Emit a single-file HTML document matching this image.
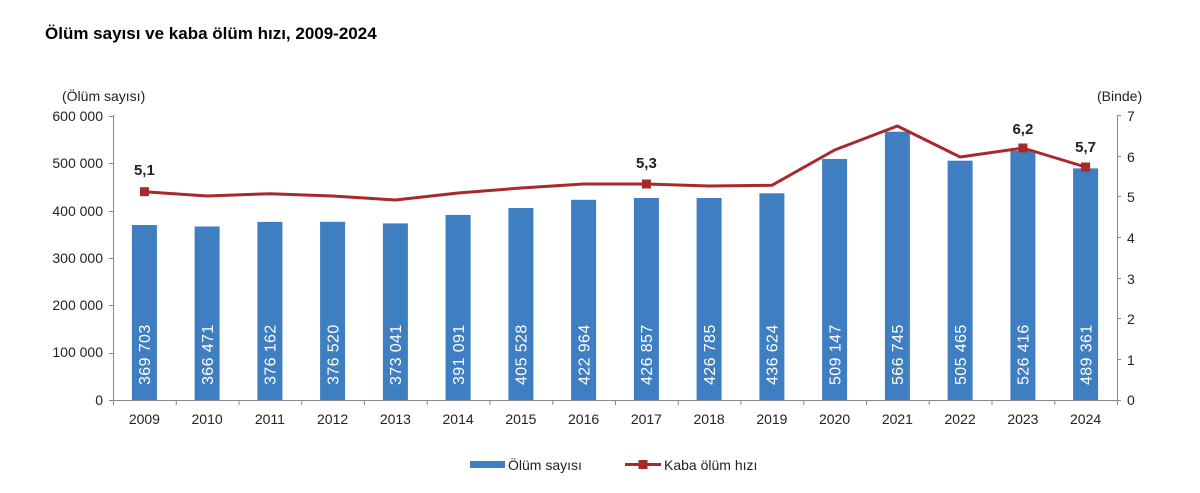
<!DOCTYPE html>
<html><head><meta charset="utf-8"><style>
body{margin:0;background:#fff;}
svg{display:block;font-family:"Liberation Sans",Arial,sans-serif;}
</style></head><body>
<svg width="1200" height="493" viewBox="0 0 1200 493" xmlns="http://www.w3.org/2000/svg">
<text x="45" y="39" font-size="17" font-weight="bold" fill="#000">Ölüm sayısı ve kaba ölüm hızı, 2009-2024</text>
<text x="62" y="101" font-size="14" fill="#222">(Ölüm sayısı)</text>
<text x="1097" y="101" font-size="14" fill="#222">(Binde)</text>
<g font-size="14" fill="#222" text-anchor="end">
<text x="103" y="121">600 000</text><text x="103" y="168">500 000</text><text x="103" y="216">400 000</text>
<text x="103" y="263">300 000</text><text x="103" y="310">200 000</text><text x="103" y="357">100 000</text><text x="103" y="405">0</text>
</g>
<g font-size="14" fill="#222">
<text x="1127" y="121">7</text><text x="1127" y="162">6</text><text x="1127" y="202">5</text><text x="1127" y="243">4</text>
<text x="1127" y="284">3</text><text x="1127" y="324">2</text><text x="1127" y="365">1</text><text x="1127" y="405">0</text>
</g>
<g stroke="#888" stroke-width="1">
<line x1="113.5" y1="115" x2="113.5" y2="400"/>
<line x1="1117.5" y1="115" x2="1117.5" y2="400"/>
<line x1="113" y1="400.5" x2="1118" y2="400.5"/>
<path d="M109 116.5h4M109 163.5h4M109 211.5h4M109 258.5h4M109 305.5h4M109 353.5h4M109 400.5h4"/>
<path d="M1117 115.5h4M1117 156.5h4M1117 196.5h4M1117 237.5h4M1117 278.5h4M1117 318.5h4M1117 359.5h4M1117 400.5h4"/>
<path d="M113.5 400v5M176.25 400v5M239 400v5M301.75 400v5M364.5 400v5M427.25 400v5M490 400v5M552.75 400v5M615.5 400v5M678.25 400v5M741 400v5M803.75 400v5M866.5 400v5M929.25 400v5M992 400v5M1054.75 400v5M1117.5 400v5"/>
</g>
<g fill="#3e7ec1">
<rect x="131.9" y="225" width="25" height="175"/>
<rect x="194.6" y="226.5" width="25" height="173.5"/>
<rect x="257.4" y="221.9" width="25" height="178.1"/>
<rect x="320.1" y="221.8" width="25" height="178.2"/>
<rect x="382.9" y="223.4" width="25" height="176.6"/>
<rect x="445.6" y="214.9" width="25" height="185.1"/>
<rect x="508.4" y="208" width="25" height="192"/>
<rect x="571.1" y="199.8" width="25" height="200.2"/>
<rect x="633.9" y="198" width="25" height="202"/>
<rect x="696.6" y="198" width="25" height="202"/>
<rect x="759.4" y="193.3" width="25" height="206.7"/>
<rect x="822.1" y="159" width="25" height="241"/>
<rect x="884.9" y="131.7" width="25" height="268.3"/>
<rect x="947.6" y="160.7" width="25" height="239.3"/>
<rect x="1010.4" y="150.8" width="25" height="249.2"/>
<rect x="1073.1" y="168.4" width="25" height="231.6"/>
</g>
<g font-size="16" fill="#fff" letter-spacing="0.4">
<text transform="translate(150.2,385) rotate(-90)">369 703</text>
<text transform="translate(212.9,385) rotate(-90)">366 471</text>
<text transform="translate(275.7,385) rotate(-90)">376 162</text>
<text transform="translate(338.4,385) rotate(-90)">376 520</text>
<text transform="translate(401.2,385) rotate(-90)">373 041</text>
<text transform="translate(463.9,385) rotate(-90)">391 091</text>
<text transform="translate(526.7,385) rotate(-90)">405 528</text>
<text transform="translate(589.4,385) rotate(-90)">422 964</text>
<text transform="translate(652.2,385) rotate(-90)">426 857</text>
<text transform="translate(714.9,385) rotate(-90)">426 785</text>
<text transform="translate(777.7,385) rotate(-90)">436 624</text>
<text transform="translate(840.4,385) rotate(-90)">509 147</text>
<text transform="translate(903.2,385) rotate(-90)">566 745</text>
<text transform="translate(965.9,385) rotate(-90)">505 465</text>
<text transform="translate(1028.7,385) rotate(-90)">526 416</text>
<text transform="translate(1091.4,385) rotate(-90)">489 361</text>
</g>
<polyline fill="none" stroke="#a8292b" stroke-width="3" stroke-linejoin="round" points="144.4,191.7 207.1,196 269.9,193.7 332.6,196 395.4,200 458.1,193 520.9,188 583.6,184 646.4,184 709.1,186 771.9,185.3 834.6,150 897.4,126 960.1,157 1022.9,148 1085.6,167"/>
<g fill="#a8292b">
<rect x="139.9" y="187.2" width="9" height="9"/>
<rect x="641.9" y="179.5" width="9" height="9"/>
<rect x="1018.4" y="143.5" width="9" height="9"/>
<rect x="1081.1" y="162.5" width="9" height="9"/>
</g>
<g font-size="15" font-weight="bold" fill="#222" text-anchor="middle">
<text x="144.4" y="175">5,1</text>
<text x="646.4" y="168">5,3</text>
<text x="1022.9" y="134">6,2</text>
<text x="1085.6" y="152">5,7</text>
</g>
<g font-size="14" fill="#222" text-anchor="middle">
<text x="144.4" y="424">2009</text><text x="207.1" y="424">2010</text><text x="269.9" y="424">2011</text><text x="332.6" y="424">2012</text>
<text x="395.4" y="424">2013</text><text x="458.1" y="424">2014</text><text x="520.9" y="424">2015</text><text x="583.6" y="424">2016</text>
<text x="646.4" y="424">2017</text><text x="709.1" y="424">2018</text><text x="771.9" y="424">2019</text><text x="834.6" y="424">2020</text>
<text x="897.4" y="424">2021</text><text x="960.1" y="424">2022</text><text x="1022.9" y="424">2023</text><text x="1085.6" y="424">2024</text>
</g>
<rect x="470" y="461" width="35" height="7" fill="#3e7ec1"/>
<text x="508" y="470" font-size="14" fill="#222">Ölüm sayısı</text>
<line x1="625" y1="464.5" x2="661" y2="464.5" stroke="#a8292b" stroke-width="3"/>
<rect x="638.5" y="460" width="9" height="9" fill="#a8292b"/>
<text x="664" y="470" font-size="14" fill="#222">Kaba ölüm hızı</text>
</svg>
</body></html>
